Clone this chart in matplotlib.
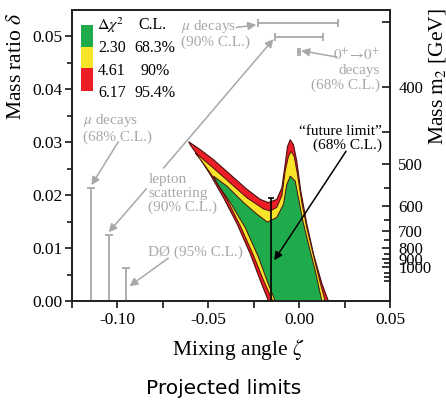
"""
Projected limits on the mixing angle and mass ratio (Delta chi^2 contours).
"""

import matplotlib
matplotlib.use('Agg')  # no display
import matplotlib.pyplot as plt
from matplotlib.patches import Rectangle

plt.rcParams['font.family'] = ['Liberation Serif', 'DejaVu Serif']
plt.rcParams['mathtext.fontset'] = 'stix'
plt.rcParams['axes.unicode_minus'] = False

# contour outlines (zeta, delta)
red_zeta = [-0.0608, -0.0544, -0.0471, -0.0379, -0.0287, -0.0214, -0.0169, -0.0123,
            -0.0095, -0.0077, -0.0064, -0.0049, -0.0031, -0.0013, 0.0009, 0.0042,
            0.0079, 0.0125, 0.0161, -0.0169, -0.0214, -0.0269, -0.0342, -0.0416,
            -0.0489, -0.0553, -0.0599]
red_delta = [0.0301, 0.0286, 0.0267, 0.0239, 0.0211, 0.0192, 0.0186, 0.0192,
             0.0214, 0.0258, 0.0292, 0.0305, 0.0295, 0.0264, 0.0208, 0.0146,
             0.0089, 0.0033, 0.0, 0.0, 0.0039, 0.0089, 0.0146, 0.0195,
             0.0239, 0.0273, 0.0295]

yellow_zeta = [-0.0571, -0.0471, -0.0379, -0.0287, -0.0196, -0.0159, -0.0123, -0.0095,
               -0.0077, -0.0059, -0.0044, -0.0027, -0.0009, 0.0015, 0.0042, 0.0079,
               0.0115, 0.0143, -0.0145, -0.0196, -0.0251, -0.0324, -0.0397, -0.0471,
               -0.0535, -0.0566]
yellow_delta = [0.0280, 0.0251, 0.0223, 0.0195, 0.0174, 0.0170, 0.0177, 0.0199,
                0.0245, 0.0273, 0.0283, 0.0273, 0.0239, 0.0186, 0.0139, 0.0086,
                0.0036, 0.0, 0.0, 0.0039, 0.0086, 0.0142, 0.0192, 0.0233,
                0.0264, 0.0277]

green_zeta = [-0.0471, -0.0397, -0.0306, -0.0232, -0.0174, -0.0123, -0.0086, -0.0068,
              -0.0049, -0.0022, -0.0004, 0.0020, 0.0051, 0.0088, 0.0125, -0.0132,
              -0.0174, -0.0224, -0.0297, -0.0379, -0.0452]
green_delta = [0.0236, 0.0217, 0.0186, 0.0164, 0.0149, 0.0158, 0.0183, 0.0220,
               0.0236, 0.0227, 0.0195, 0.0152, 0.0108, 0.0058, 0.0, 0.0,
               0.0036, 0.0083, 0.0139, 0.0186, 0.0223]

# existing limits: vertical lines (mu decays 68%, lepton scattering, D0)
lim_zeta = [-0.1148, -0.1048, -0.0951]
lim_delta = [0.0213, 0.01255, 0.0063]

# horizontal limits (mu decays 90%, lepton scattering, 0+ -> 0+)
bar_lo = [-0.0224, -0.0132, -0.0007]
bar_hi = [0.0216, 0.0130, 0.0005]
bar_delta = [0.0525, 0.0499, 0.0471]

future_zeta = -0.0155
future_delta = 0.0194

# legend table
legend_chi2 = ['2.30', '4.61', '6.17']
legend_cl = ['68.3%', '90%', '95.4%']

# right axis: m2 in GeV, delta = (M_W / m2)^2
M_W = 80.4
mass_major = [350, 400, 450, 500, 600, 700, 800, 900, 1000]
mass_labels = ['', '400', '', '500', '600', '700', '800', '900', '1000']
mass_minor = [550, 650, 750, 850, 950, 1100, 1200, 1300]

GREEN = '#1fab4b'
YELLOW = '#f8e52a'
RED = '#ec1d25'
EDGE = '#4a1010'
GRAY = '#a8a8a8'

fig = plt.figure(figsize=(4.46, 4.01), dpi=100)
ax = fig.add_axes([72 / 446, 1 - 301 / 401, 318 / 446, 291 / 401])

ax.fill(red_zeta, red_delta, fc=RED, ec=EDGE, lw=0.8, zorder=2)
ax.fill(yellow_zeta, yellow_delta, fc=YELLOW, ec=EDGE, lw=0.7, zorder=3)
ax.fill(green_zeta, green_delta, fc=GREEN, ec=EDGE, lw=0.7, zorder=4)

ax.vlines(lim_zeta, 0, lim_delta, color=GRAY, lw=1.3, zorder=5)
ax.plot(lim_zeta, lim_delta, ls='none', marker='_', ms=6, mew=1.3, color=GRAY, zorder=5)

centers = [(lo + hi) / 2 for lo, hi in zip(bar_lo, bar_hi)]
halfs = [(hi - lo) / 2 for lo, hi in zip(bar_lo, bar_hi)]
ax.errorbar(centers, bar_delta, xerr=halfs, fmt='none', ecolor=GRAY,
            elinewidth=1.3, capsize=3, capthick=1.3, zorder=5)

ax.vlines(future_zeta, 0, future_delta, color='k', lw=1.2, zorder=6)
ax.plot([future_zeta], [future_delta], marker='_', ms=5, mew=1.2, color='k', zorder=6)

# annotations
gray_arrow = dict(arrowstyle='-|>', color=GRAY, lw=1.1, mutation_scale=12,
                  shrinkA=0, shrinkB=0)
arrows = [
    ((-0.0995, 0.0301), (-0.1143, 0.0219)),
    ((-0.0841, 0.0212), (-0.1048, 0.0130)),
    ((-0.0747, 0.0251), (-0.0141, 0.0495)),
    ((-0.0346, 0.0517), (-0.0236, 0.0522)),
    ((0.0209, 0.0461), (0.0011, 0.0473)),
    ((-0.0720, 0.0081), (-0.0934, 0.0028)),
]
for start, end in arrows:
    ax.annotate('', xy=end, xytext=start, arrowprops=gray_arrow, zorder=7)
ax.annotate('', xy=(-0.0137, 0.0077), xytext=(0.0258, 0.0283),
            arrowprops=dict(arrowstyle='-|>', color='k', lw=1.1,
                            mutation_scale=12, shrinkA=0, shrinkB=0), zorder=7)

fs = 11
ax.text(-0.0648, 0.0506, '$\\mu$ decays\n(90% C.L.)', color=GRAY, fontsize=fs,
        ha='left', va='center', linespacing=1.1, zorder=8)
ax.text(0.0445, 0.0437, '$0^{+}\\!\\rightarrow\\!0^{+}$\ndecays\n(68% C.L.)', color=GRAY,
        fontsize=fs, ha='right', va='center', multialignment='right',
        linespacing=1.1, zorder=8)
ax.text(-0.1192, 0.0327, '$\\mu$ decays\n(68% C.L.)', color=GRAY, fontsize=fs,
        ha='left', va='center', linespacing=1.1, zorder=8)
ax.text(-0.0830, 0.0203, 'lepton\nscattering\n(90% C.L.)', color=GRAY, fontsize=fs,
        ha='left', va='center', linespacing=1.05, zorder=8)
ax.text(-0.0830, 0.0092, 'DØ (95% C.L.)', color=GRAY, fontsize=fs,
        ha='left', va='center', zorder=8)
ax.text(0.0456, 0.0307, '\u201cfuture limit\u201d\n(68% C.L.)', color='k', fontsize=fs,
        ha='right', va='center', multialignment='right', linespacing=1.1, zorder=8)

# legend boxes and table
box_colors = [GREEN, YELLOW, RED]
box_bottoms = [0.8739, 0.7997, 0.7227]
box_heights = [0.0746, 0.0742, 0.0770]
for c, b, h in zip(box_colors, box_bottoms, box_heights):
    ax.add_patch(Rectangle((0.0283, b), 0.0368, h, transform=ax.transAxes,
                           fc=c, ec='none', zorder=8))
ax.text(0.1226, 0.9485, '$\\Delta\\chi^2$', transform=ax.transAxes, fontsize=11.5,
        ha='center', va='center')
ax.text(0.2531, 0.9485, 'C.L.', transform=ax.transAxes, fontsize=11.5,
        ha='center', va='center')
for y, chi, cl in zip([0.8694, 0.7914, 0.7148], legend_chi2, legend_cl):
    ax.text(0.1252, y, chi, transform=ax.transAxes, fontsize=11.5,
            ha='center', va='center')
    ax.text(0.2600, y, cl, transform=ax.transAxes, fontsize=11.5,
            ha='center', va='center')

# axes
ax.set_xlim(-0.125, 0.05)
ax.set_ylim(0, 0.055)
ax.set_xticks([-0.10, -0.05, 0.00, 0.05])
ax.set_xticks([-0.125, -0.075, -0.025, 0.025], minor=True)
ax.set_xticklabels(['%.2f' % v for v in [-0.10, -0.05, 0.00, 0.05]])
ax.set_yticks([0.00, 0.01, 0.02, 0.03, 0.04, 0.05])
ax.set_yticks([0.005, 0.015, 0.025, 0.035, 0.045], minor=True)
ax.set_yticklabels(['%.2f' % v for v in [0.00, 0.01, 0.02, 0.03, 0.04, 0.05]])
ax.tick_params(axis='both', which='both', direction='out', labelsize=12.5, width=1.1)
ax.tick_params(axis='x', which='both', length=5, pad=3)
ax.tick_params(axis='y', which='major', length=5, pad=2)
ax.tick_params(axis='y', which='minor', length=3.5)
for s in ax.spines.values():
    s.set_linewidth(1.3)
    s.set_color('#222222')

ax2 = ax.twinx()
ax2.set_ylim(ax.get_ylim())
ax2.set_yticks([(M_W / m) ** 2 for m in mass_major])
ax2.set_yticklabels(mass_labels)
ax2.set_yticks([(M_W / m) ** 2 for m in mass_minor], minor=True)
ax2.tick_params(axis='y', which='both', direction='in', labelsize=12, width=1.1, pad=6)
ax2.tick_params(axis='y', which='major', length=6)
ax2.tick_params(axis='y', which='minor', length=4)
for s in ax2.spines.values():
    s.set_linewidth(1.3)
    s.set_color('#222222')

fig.text(17 / 446, 1 - 66.5 / 401, 'Mass ratio $\\delta$', rotation=90,
         fontsize=15.5, ha='center', va='center')
fig.text(437 / 446, 1 - 76.5 / 401, 'Mass $\\mathrm{m}_2$ [GeV]', rotation=90,
         fontsize=15.5, ha='center', va='center')
fig.text(238 / 446, 1 - 349 / 401, 'Mixing angle $\\zeta$', fontsize=15.5,
         ha='center', va='center')
fig.text(223.5 / 446, 1 - 389 / 401, 'Projected limits', family='DejaVu Sans',
         fontsize=14.5, ha='center', va='center')

fig.savefig('out.png', dpi=100)
